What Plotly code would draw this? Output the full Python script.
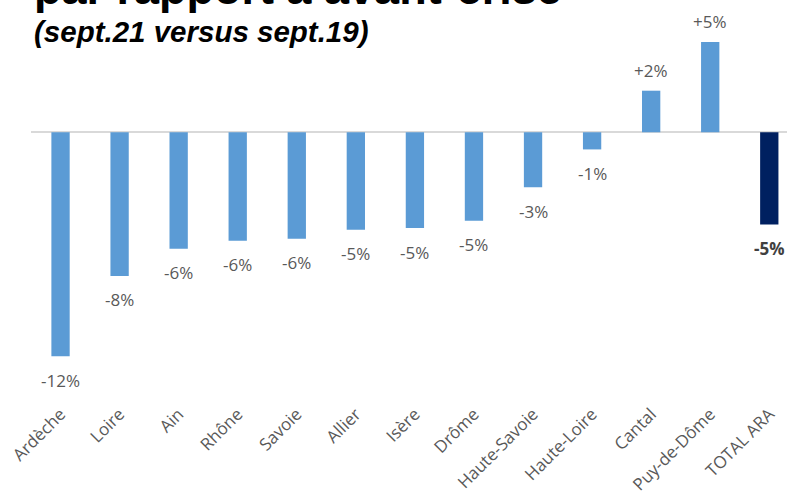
import plotly.graph_objects as go

categories = ["Ardèche", "Loire", "Ain", "Rhône", "Savoie", "Allier", "Isère", "Drôme",
              "Haute-Savoie", "Haute-Loire", "Cantal", "Puy-de-Dôme", "TOTAL ARA"]
values = [-12.4, -7.95, -6.45, -6.0, -5.9, -5.4, -5.3, -4.9, -3.05, -0.95, 2.3, 5.0, -5.1]
labels = ["-12%", "-8%", "-6%", "-6%", "-6%", "-5%", "-5%", "-5%", "-3%", "-1%", "+2%", "+5%", "-5%"]
title_line = "par rapport à avant-crise"
subtitle = "(sept.21 versus sept.19)"

LIGHT = "#5B9BD5"
DARK = "#002060"
colors = [DARK if c == "TOTAL ARA" else LIGHT for c in categories]

fig = go.Figure(go.Bar(x=categories, y=values, marker=dict(color=colors, line=dict(width=0)),
                       hoverinfo="skip"))

W, H = 787, 491
top_px, bot_px = 30, 400
left_px = 31

for c, v, t in zip(categories, values, labels):
    total = c == "TOTAL ARA"
    fig.add_annotation(x=c, y=v, text=("<b>%s</b>" % t) if total else t, showarrow=False,
                       yanchor="middle", xanchor="center",
                       yshift=20 if v > 0 else -24,
                       font=dict(family="Open Sans", size=17,
                                 color="#404040" if total else "#595959"))

def py(p):
    return (bot_px - p) / (bot_px - top_px)

fig.add_annotation(xref="paper", yref="paper", x=(32 - left_px) / (W - left_px), y=py(-12),
                   text="<b>" + title_line + "</b>", showarrow=False, xanchor="left", yanchor="middle",
                   font=dict(family="Liberation Sans", size=45, color="#000000"))
fig.add_annotation(xref="paper", yref="paper", x=(32 - left_px) / (W - left_px), y=py(32),
                   text="<b><i>" + subtitle + "</i></b>", showarrow=False, xanchor="left", yanchor="middle",
                   font=dict(family="Liberation Sans", size=29.5, color="#000000"))

fig.update_layout(
    width=W, height=H,
    margin=dict(l=left_px, r=0, t=top_px, b=H - bot_px, pad=0, autoexpand=False),
    plot_bgcolor="white", paper_bgcolor="white",
    bargap=0.69, showlegend=False,
    xaxis=dict(range=[-0.5, 12.3], tickangle=-45, showgrid=False, showline=False, ticks="",
               automargin=False,
               tickfont=dict(family="Open Sans", size=17, color="#595959")),
    yaxis=dict(range=[-14.82, 5.66], showticklabels=False, showgrid=False, zeroline=True,
               automargin=False,
               zerolinecolor="#D9D9D9", zerolinewidth=1.5, showline=False),
)

fig.write_html("out.html", config={"displayModeBar": False},
               post_script="document.body.style.margin='0';document.body.style.overflow='hidden';")
